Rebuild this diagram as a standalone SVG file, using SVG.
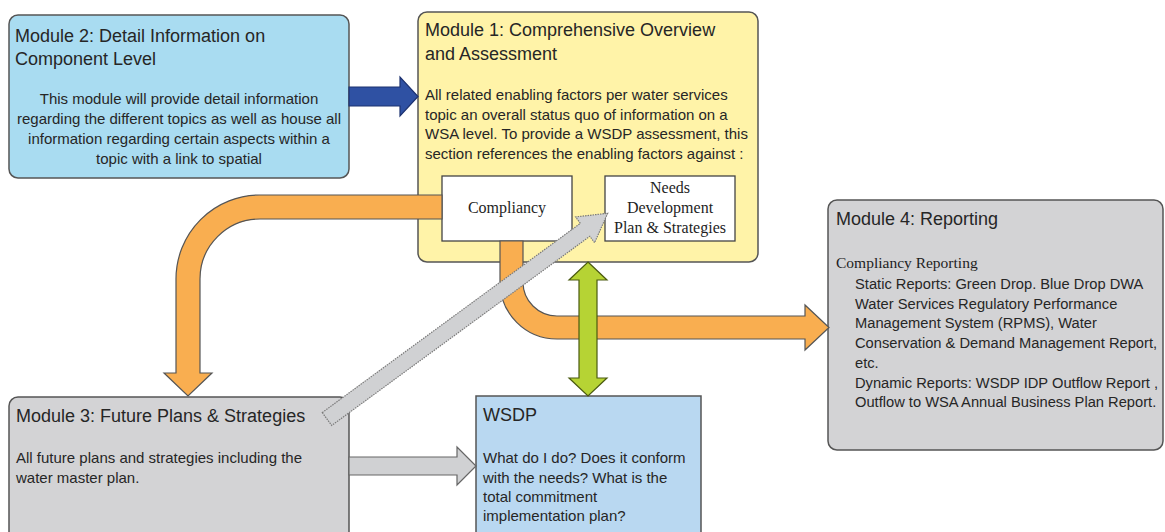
<svg xmlns="http://www.w3.org/2000/svg" width="1165" height="532" viewBox="0 0 1165 532">
<style>
  .box { stroke: #555; stroke-width: 1.5; }
  .m2 { fill: #a9dcf1; }
  .m1 { fill: #fff3a8; }
  .grey { fill: #d3d3d5; }
  .wsdp { fill: #b9d8f1; }
  .sub { fill: #ffffff; stroke: #444; stroke-width: 1.3; }
  .t { font-family: "Liberation Sans", Arial, sans-serif; fill: #262626; }
  .title { font-size: 18px; }
  .body { font-size: 15px; }
  .serif { font-family: "Liberation Serif", "Times New Roman", serif; fill: #1e1e1e; font-size: 16px; }
  .orange { fill: #f9ae50; stroke: #555; stroke-width: 1.2; }
  .green { fill: #b6d334; stroke: #4a5a10; stroke-width: 1.2; }
  .blue { fill: #2f51a3; stroke: #1d3270; stroke-width: 1.2; }
  .greyarrow { fill: #d0d1d3; stroke: #7a7a7a; stroke-width: 1.2; stroke-dasharray: 1.5 1; }
  .greyarrow2 { fill: #d0d1d3; stroke: #666; stroke-width: 1.2; }
</style>

<g id="module2">
  <rect class="box m2" x="9" y="15" width="340" height="163" rx="9"/>
  <text class="t title" x="15" y="42">Module 2: Detail Information on</text>
  <text class="t title" x="15" y="65">Component Level</text>
  <g class="t body" text-anchor="middle">
    <text x="179" y="104">This module will provide detail information</text>
    <text x="179" y="124">regarding the different topics as well as house all</text>
    <text x="179" y="144">information regarding certain aspects within a</text>
    <text x="179" y="164">topic with a link to spatial</text>
  </g>
</g>

<g id="module1">
  <rect class="box m1" x="418" y="12" width="340" height="250" rx="9"/>
  <text class="t title" x="425" y="36">Module 1: Comprehensive Overview</text>
  <text class="t title" x="425" y="60">and Assessment</text>
  <g class="t body">
    <text x="425" y="100">All related enabling factors per water services</text>
    <text x="425" y="119.5">topic an overall status quo of information on a</text>
    <text x="425" y="139">WSA level. To provide a WSDP assessment, this</text>
    <text x="425" y="159">section references the enabling factors against :</text>
  </g>
</g>

<g id="compliancy">
  <rect class="sub" x="442" y="176" width="130" height="65"/>
  <text class="serif" x="507" y="213" text-anchor="middle">Compliancy</text>
</g>

<g id="needs">
  <rect class="sub" x="605" y="176" width="130" height="65"/>
  <g class="serif" text-anchor="middle">
    <text x="670" y="193">Needs</text>
    <text x="670" y="213">Development</text>
    <text x="670" y="233">Plan &amp; Strategies</text>
  </g>
</g>

<g id="module4">
  <rect class="box grey" x="828" y="200" width="335" height="250" rx="9"/>
  <text class="t title" x="836" y="225">Module 4: Reporting</text>
  <text class="serif" x="836" y="268" style="font-size:15.5px">Compliancy Reporting</text>
  <g class="t body" style="font-size:14.7px">
    <text x="855" y="289">Static Reports: Green Drop. Blue Drop DWA</text>
    <text x="855" y="308.5">Water Services Regulatory Performance</text>
    <text x="855" y="328">Management System (RPMS), Water</text>
    <text x="855" y="348">Conservation &amp; Demand Management Report,</text>
    <text x="855" y="368">etc.</text>
    <text x="855" y="388">Dynamic Reports: WSDP IDP Outflow Report ,</text>
    <text x="855" y="407">Outflow to WSA Annual Business Plan Report.</text>
  </g>
</g>

<g id="module3">
  <rect class="box grey" x="9" y="397" width="340" height="160" rx="9"/>
  <text class="t title" x="16" y="422">Module 3: Future Plans &amp; Strategies</text>
  <g class="t body">
    <text x="16" y="463">All future plans and strategies including the</text>
    <text x="16" y="483">water master plan.</text>
  </g>
</g>

<g id="wsdp">
  <rect class="box wsdp" x="476" y="396" width="225" height="160"/>
  <text class="t title" x="483" y="421">WSDP</text>
  <g class="t body">
    <text x="483" y="463">What do I do? Does it conform</text>
    <text x="483" y="483">with the needs? What is the</text>
    <text x="483" y="502">total commitment</text>
    <text x="483" y="521">implementation plan?</text>
  </g>
</g>

<g id="connectors">
  <path class="orange" d="M442,195 H260 A84,84 0 0 0 176,279 V373 H164 L188,396 L212,373 H200 V279 A60,60 0 0 1 260,219 H442 Z"/>
  <path class="orange" d="M500,241 V282 A57,57 0 0 0 557,339 H805 V350 L829,327.5 L805,305 V316 H557 A34,34 0 0 1 523,282 V241 Z"/>
  <path class="green" d="M588,262 L607,280 H597 V378 H607 L588,396 L569,378 H579 V280 H569 Z"/>
  <path class="blue" d="M349,87 H400 V77 L418,96.5 L400,116 V106 H349 Z"/>
  <path class="greyarrow2" d="M349,457 H457 V447 L476,466 L457,485 V475 H349 Z"/>
  <path class="greyarrow" transform="translate(327,419) rotate(-36.24)" d="M0,-8 H320 V-16 L348,0 L320,16 V8 H0 Z"/>
</g>
</svg>
